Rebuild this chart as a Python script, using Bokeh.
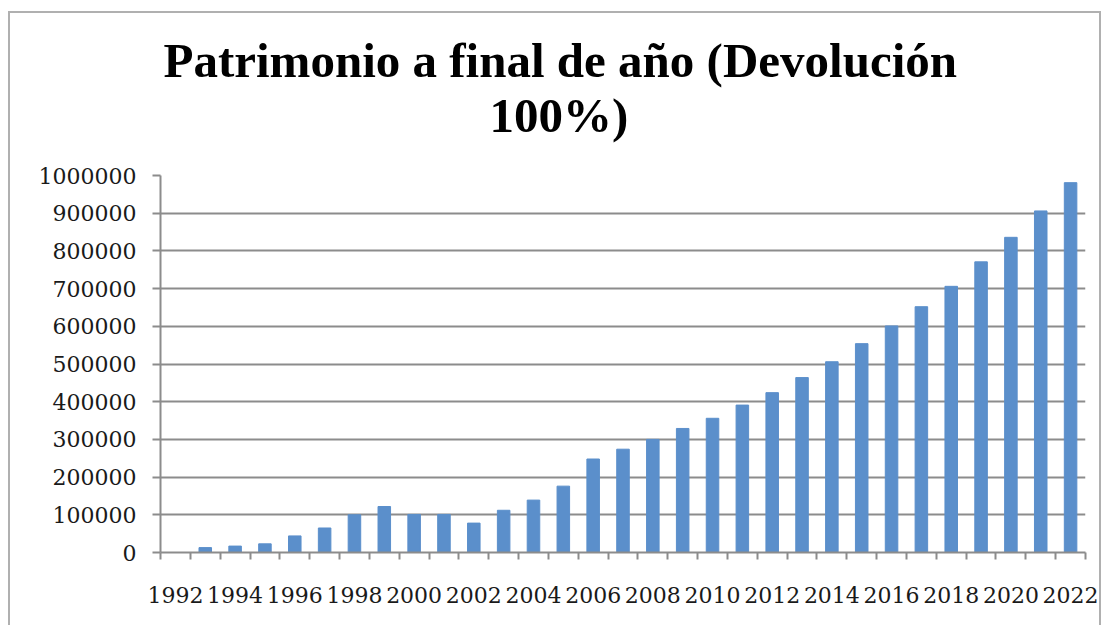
from bokeh.plotting import figure
from bokeh.models import Range1d, FixedTicker, BasicTickFormatter, Title
from bokeh.embed import file_html
from bokeh.resources import INLINE

# ---- data ----
years = list(range(1992, 2023))
patrimonio = [0, 13000, 17000, 23000, 44000, 65000, 100000, 122000, 101000, 101000,
              78000, 112000, 139000, 176000, 248000, 274000, 300000, 329000, 356000,
              391000, 424000, 464000, 506000, 554000, 601000, 652000, 706000, 771000,
              836000, 906000, 981000]
label_years = years[::2]
y_ticks = list(range(0, 1000001, 100000))
title_line1 = "Patrimonio a final de año (Devolución"
title_line2 = "100%)"

W, H = 1093, 614
p = figure(width=W, height=H, output_backend="svg", toolbar_location=None,
           x_range=Range1d(years[0] - 0.5, years[-1] + 0.5),
           y_range=Range1d(0, 1000000),
           min_border_left=150, min_border_right=18, min_border_top=162,
           min_border_bottom=H - 539)
p.styles = {"border-left": "2px solid #b0b0b0", "border-top": "2px solid #b0b0b0",
            "border-right": "2px solid #b0b0b0", "margin-top": "11px",
            "margin-left": "8px"}

p.vbar(x=years, top=patrimonio, width=0.42, color="#5B8FCB")

# titles (added nearest-first)
t2 = Title(text=title_line2, text_font="Liberation Serif", text_font_style="bold",
           text_font_size="49px", align="left", offset=329, standoff=66,
           text_color="#000000")
t1 = Title(text=title_line1, text_font="Liberation Serif", text_font_style="bold",
           text_font_size="49px", align="left", offset=3, standoff=-70,
           text_color="#000000")
p.add_layout(t2, "above")
p.add_layout(t1, "above")

# x axis
bounds = [y - 0.5 for y in years] + [years[-1] + 0.5]
p.xaxis.ticker = FixedTicker(ticks=label_years, minor_ticks=bounds)
p.xaxis.major_tick_out = 0
p.xaxis.major_tick_in = 0
p.xaxis.minor_tick_out = 7
p.xaxis.minor_tick_in = 0
p.xaxis.minor_tick_line_color = "#8c8c8c"
p.xaxis.minor_tick_line_width = 2
p.xaxis.axis_line_color = "#8c8c8c"
p.xaxis.axis_line_width = 2
p.xaxis.major_label_text_font = "DejaVu Serif"
p.xaxis.major_label_text_font_size = "22px"
p.xaxis.major_label_text_color = "#1a1a1a"
p.xaxis.major_label_standoff = 27
p.xaxis.formatter = BasicTickFormatter(use_scientific=False)

# y axis
p.yaxis.ticker = FixedTicker(ticks=y_ticks, minor_ticks=[])
p.yaxis.formatter = BasicTickFormatter(use_scientific=False)
p.yaxis.major_tick_out = 8
p.yaxis.major_tick_in = 0
p.yaxis.major_tick_line_color = "#8c8c8c"
p.yaxis.major_tick_line_width = 2
p.yaxis.axis_line_color = "#8c8c8c"
p.yaxis.axis_line_width = 2
p.yaxis.major_label_text_font = "DejaVu Serif"
p.yaxis.major_label_text_font_size = "22px"
p.yaxis.major_label_text_color = "#1a1a1a"
p.yaxis.major_label_standoff = 16

p.xgrid.grid_line_color = None
p.ygrid.grid_line_color = "#8c8c8c"
p.ygrid.grid_line_width = 2
p.outline_line_color = None
p.background_fill_color = "white"
p.border_fill_color = "white"

open("out.html", "w").write(file_html(p, INLINE))
